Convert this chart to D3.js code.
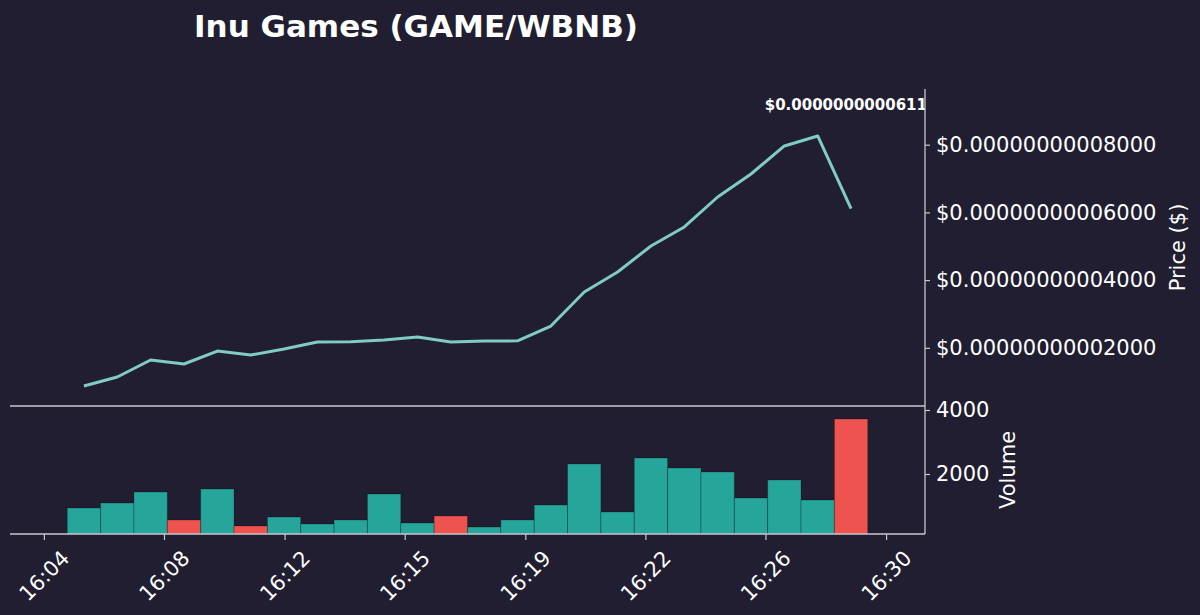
<!DOCTYPE html>
<html>
<head>
<meta charset="utf-8">
<script src="https://cdn.jsdelivr.net/npm/d3@7"></script>
<style>
	html, body { margin: 0; padding: 0; background: #201e30; }
	svg { display: block; font-family: 'DejaVu Sans', sans-serif; }
</style>
</head>
<body>
<svg id="chart" width="1200" height="615"></svg>
<script>
const title = 'Inu Games (GAME/WBNB)';

// one candle per minute
const times = [
	'16:06', '16:07', '16:08', '16:09', '16:10', '16:11', '16:12', '16:13',
	'16:14', '16:15', '16:16', '16:17', '16:18', '16:19', '16:20', '16:21',
	'16:22', '16:23', '16:24', '16:25', '16:26', '16:27', '16:28', '16:29',
];

const prices = [
	0.871e-11, 1.137e-11, 1.64e-11, 1.521e-11, 1.905e-11, 1.787e-11, 1.965e-11, 2.171e-11,
	2.18e-11, 2.23e-11, 2.319e-11, 2.171e-11, 2.2e-11, 2.205e-11, 2.644e-11, 3.648e-11,
	4.239e-11, 5.007e-11, 5.569e-11, 6.455e-11, 7.134e-11, 7.962e-11, 8.257e-11, 6.113e-11,
];

const volumes = [
	938, 1094, 1438, 563, 1531, 375, 656, 438,
	563, 1375, 469, 688, 344, 563, 1031, 2313,
	813, 2500, 2188, 2063, 1250, 1813, 1188, 3719,
];

const priceTicks = [2e-11, 4e-11, 6e-11, 8e-11];
const volumeTicks = [2000, 4000];
const timeTicks = [
	'16:04:48', '16:08:24', '16:12:01', '16:15:37',
	'16:19:14', '16:22:50', '16:26:26', '16:30:03',
];

const bg = '#201e30';
const up = '#26a69a';
const down = '#ef5350';
const lineColor = '#80cbc4';
const spineColor = '#c8c8cc';
const labelSize = 21;

const parseMin = d3.timeParse('%H:%M');
const parseSec = d3.timeParse('%H:%M:%S');
const fmtTime = d3.timeFormat('%H:%M');
const fmtPrice = (v) => '$' + d3.format('.14f')(v);

const data = times.map((t, i) => ({
	t: parseMin(t),
	price: prices[i],
	volume: volumes[i],
	// red when the close fell from the minute before
	down: i > 0 && prices[i] < prices[i - 1],
}));

const left = 10, right = 925;
const priceTop = 89, priceBottom = 406;
const volTop = 406, volBottom = 534;
const pad = 133 * 1000; // ms of padding each side

const x = d3.scaleTime()
	.domain([new Date(+data[0].t - pad), new Date(+data[data.length - 1].t + pad)])
	.range([left, right]);

const yPrice = d3.scaleLinear().domain([0.281e-11, 9.645e-11]).range([priceBottom, priceTop]);
const yVol = d3.scaleLinear().domain([0, 4000]).range([538, 410]);

const svg = d3.select('#chart');
svg.append('rect').attr('width', 1200).attr('height', 615).attr('fill', bg);

const defs = svg.append('defs');
defs.append('clipPath').attr('id', 'clip-price')
	.append('rect').attr('x', left).attr('y', priceTop)
	.attr('width', right - left).attr('height', priceBottom - priceTop);
defs.append('clipPath').attr('id', 'clip-vol')
	.append('rect').attr('x', left).attr('y', volTop)
	.attr('width', right - left).attr('height', volBottom - volTop);

// title
svg.append('text')
	.attr('x', 416).attr('y', 37)
	.attr('text-anchor', 'middle')
	.attr('fill', '#ffffff')
	.attr('font-size', 31)
	.attr('font-weight', 'bold')
	.text(title);

// volume bars
const step = x(data[1].t) - x(data[0].t);
svg.append('g').attr('clip-path', 'url(#clip-vol)')
	.selectAll('rect')
	.data(data)
	.join('rect')
	.attr('x', (d) => x(d.t) - step / 2)
	.attr('width', step)
	.attr('y', (d) => yVol(d.volume))
	.attr('height', (d) => yVol(0) - yVol(d.volume))
	.attr('fill', (d) => (d.down ? down : up))
	.attr('stroke', 'rgba(0,0,0,0.25)')
	.attr('stroke-width', 1);

// price line
const line = d3.line().x((d) => x(d.t)).y((d) => yPrice(d.price));
const priceG = svg.append('g').attr('clip-path', 'url(#clip-price)');
priceG.append('path')
	.datum(data)
	.attr('d', line)
	.attr('fill', 'none')
	.attr('stroke', lineColor)
	.attr('stroke-width', 3)
	.attr('stroke-linejoin', 'round');

// last price label, clipped by the axes like the original
const last = data[data.length - 1];
priceG.append('text')
	.attr('x', x(last.t)).attr('y', 110)
	.attr('text-anchor', 'middle')
	.attr('fill', '#ffffff')
	.attr('font-size', 15)
	.attr('font-weight', 'bold')
	.text(fmtPrice(last.price));

// axes
const styleAxis = (g) => {
	g.select('.domain').remove();
	g.selectAll('.tick line').attr('stroke', spineColor).attr('stroke-width', 1.2);
	g.selectAll('.tick text').attr('fill', '#ffffff').attr('font-size', labelSize)
		.attr('font-family', "'DejaVu Sans', sans-serif");
};

svg.append('g')
	.attr('transform', `translate(${right},0)`)
	.call(d3.axisRight(yPrice).tickValues(priceTicks).tickFormat(fmtPrice).tickSize(5).tickPadding(6))
	.call(styleAxis);

svg.append('g')
	.attr('transform', `translate(${right},0)`)
	.call(d3.axisRight(yVol).tickValues(volumeTicks).tickFormat(d3.format('d')).tickSize(5).tickPadding(6))
	.call(styleAxis);

const xAxis = svg.append('g')
	.attr('transform', `translate(0,${volBottom})`)
	.call(d3.axisBottom(x).tickValues(timeTicks.map(parseSec)).tickFormat(fmtTime).tickSize(6))
	.call(styleAxis);
xAxis.selectAll('.tick text')
	.attr('y', 0).attr('dy', 0)
	.attr('text-anchor', 'middle')
	.attr('dominant-baseline', 'central')
	.attr('transform', 'translate(0,42) rotate(-45)');

// spines
const spines = svg.append('g').attr('stroke', spineColor).attr('stroke-width', 1.3);
spines.append('line').attr('x1', right).attr('x2', right).attr('y1', priceTop).attr('y2', volBottom);
spines.append('line').attr('x1', left).attr('x2', right).attr('y1', priceBottom).attr('y2', priceBottom);
spines.append('line').attr('x1', left).attr('x2', right).attr('y1', volBottom).attr('y2', volBottom);

// axis titles
svg.append('text')
	.attr('transform', `translate(1178,${(priceTop + priceBottom) / 2}) rotate(-90)`)
	.attr('text-anchor', 'middle')
	.attr('dominant-baseline', 'central')
	.attr('fill', '#ffffff')
	.attr('font-size', labelSize)
	.text('Price ($)');

svg.append('text')
	.attr('transform', `translate(1008,${(volTop + volBottom) / 2}) rotate(-90)`)
	.attr('text-anchor', 'middle')
	.attr('dominant-baseline', 'central')
	.attr('fill', '#ffffff')
	.attr('font-size', labelSize)
	.text('Volume');
</script>
</body>
</html>
